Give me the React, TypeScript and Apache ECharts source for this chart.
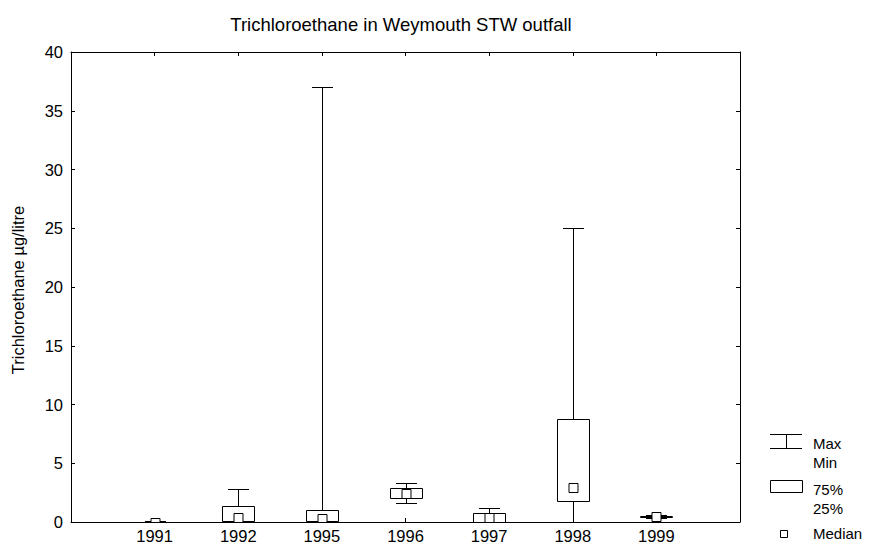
import React, { useEffect, useRef } from "react";
import * as echarts from "echarts";

const categories = ["1991", "1992", "1995", "1996", "1997", "1998", "1999"];
const minValues = [0, 0, 0, 1.58, 0, 0, 0.38];
const q1Values = [0, 0.08, 0.08, 2.03, 0.03, 1.8, 0.43];
const medianValues = [0, 0.42, 0.3, 2.44, 0.42, 2.9, 0.48];
const q3Values = [0.02, 1.36, 1.05, 2.86, 0.75, 8.75, 0.52];
const maxValues = [0.08, 2.8, 37, 3.3, 1.22, 25, 0.58];
const yTicks = { min: 0, max: 40, interval: 5 };

const FONT = "'Liberation Sans', Arial, sans-serif";

export default function App() {
  const ref = useRef<HTMLDivElement>(null);
  useEffect(() => {
    document.body.style.margin = "0";
    const chart = echarts.init(ref.current!, null, { renderer: "svg" });
    const data = categories.map((_, i) => [
      i + 1,
      minValues[i],
      q1Values[i],
      medianValues[i],
      q3Values[i],
      maxValues[i],
    ]);
    const ink = "#000";
    const axisCommon = {
      type: "value" as const,
      min: 0,
      max: categories.length + 1,
      interval: 1,
      axisLine: { show: true, onZero: false, lineStyle: { color: ink, width: 1 } },
      axisTick: { show: true, inside: true, length: 4, lineStyle: { color: ink } },
      splitLine: { show: false },
    };
    const yCommon = {
      type: "value" as const,
      min: yTicks.min,
      max: yTicks.max,
      interval: yTicks.interval,
      axisLine: { show: true, onZero: false, lineStyle: { color: ink, width: 1 } },
      axisTick: { show: true, inside: true, length: 4, lineStyle: { color: ink } },
      splitLine: { show: false },
    };
    const r = (v: number) => Math.round(v) + 0.5;
    chart.setOption({
      animation: false,
      title: {
        text: "Trichloroethane in Weymouth STW outfall",
        left: 396,
        top: 10,
        textAlign: "center",
        textStyle: { fontFamily: FONT, fontSize: 18.5, fontWeight: "normal", color: ink },
      },
      grid: { left: 71, right: 135, top: 52, bottom: 26 },
      xAxis: [
        {
          ...axisCommon,
          position: "bottom",
          axisLabel: {
            color: ink,
            fontFamily: FONT,
            fontSize: 16.5,
            margin: 5,
            formatter: (v: number) => categories[v - 1] ?? "",
          },
        },
        { ...axisCommon, position: "top", axisLabel: { show: false } },
      ],
      yAxis: [
        {
          ...yCommon,
          position: "left",
          axisLabel: { color: ink, fontFamily: FONT, fontSize: 16.5, margin: 8 },
        },
        { ...yCommon, position: "right", axisLabel: { show: false } },
      ],
      graphic: [
        {
          type: "text",
          x: 18,
          y: 290,
          rotation: Math.PI / 2,
          style: {
            text: "Trichloroethane µg/litre",
            font: `16.5px ${FONT}`,
            fill: ink,
            textAlign: "center",
            textVerticalAlign: "middle",
          },
        },
        { type: "line", shape: { x1: 770, y1: 434.5, x2: 802, y2: 434.5 }, style: { stroke: ink, lineWidth: 1 } },
        { type: "line", shape: { x1: 786.5, y1: 434.5, x2: 786.5, y2: 448.5 }, style: { stroke: ink, lineWidth: 1 } },
        { type: "line", shape: { x1: 770, y1: 448.5, x2: 802, y2: 448.5 }, style: { stroke: ink, lineWidth: 1 } },
        { type: "text", x: 813, y: 443, style: { text: "Max", font: `15px ${FONT}`, fill: ink, textVerticalAlign: "middle" } },
        { type: "text", x: 813, y: 462, style: { text: "Min", font: `15px ${FONT}`, fill: ink, textVerticalAlign: "middle" } },
        { type: "rect", shape: { x: 770.5, y: 480.5, width: 32, height: 12 }, style: { fill: "#fff", stroke: ink, lineWidth: 1 } },
        { type: "text", x: 813, y: 489, style: { text: "75%", font: `15px ${FONT}`, fill: ink, textVerticalAlign: "middle" } },
        { type: "text", x: 813, y: 508, style: { text: "25%", font: `15px ${FONT}`, fill: ink, textVerticalAlign: "middle" } },
        { type: "rect", shape: { x: 780.5, y: 530.5, width: 7, height: 7 }, style: { fill: "#fff", stroke: ink, lineWidth: 1 } },
        { type: "text", x: 813, y: 533, style: { text: "Median", font: `15px ${FONT}`, fill: ink, textVerticalAlign: "middle" } },
      ],
      series: [
        {
          type: "custom",
          xAxisIndex: 0,
          yAxisIndex: 0,
          clip: true,
          data,
          encode: { x: 0, y: [1, 2, 3, 4, 5] },
          renderItem: (params: any, api: any) => {
            const x = api.value(0);
            const pMin = api.coord([x, api.value(1)]);
            const pQ1 = api.coord([x, api.value(2)]);
            const pMed = api.coord([x, api.value(3)]);
            const pQ3 = api.coord([x, api.value(4)]);
            const pMax = api.coord([x, api.value(5)]);
            const cx = r(pMin[0]);
            const boxW = 32;
            const capW = 21;
            const sq = 9;
            const style = { stroke: ink, lineWidth: 1, fill: "none" };
            const boxTop = r(pQ3[1]);
            const boxBot = r(pQ1[1]);
            return {
              type: "group",
              children: [
                { type: "line", shape: { x1: cx, y1: r(pMax[1]), x2: cx, y2: r(pMin[1]) }, style },
                { type: "line", shape: { x1: cx - capW / 2, y1: r(pMax[1]), x2: cx + capW / 2, y2: r(pMax[1]) }, style },
                { type: "line", shape: { x1: cx - capW / 2, y1: r(pMin[1]), x2: cx + capW / 2, y2: r(pMin[1]) }, style },
                {
                  type: "rect",
                  shape: { x: cx - boxW / 2, y: boxTop, width: boxW, height: Math.max(boxBot - boxTop, 1) },
                  style: { stroke: ink, lineWidth: 1, fill: "#fff" },
                },
                {
                  type: "rect",
                  shape: { x: cx - sq / 2, y: Math.round(pMed[1] - sq / 2) + 0.5, width: sq, height: sq },
                  style: { stroke: ink, lineWidth: 1, fill: "#fff" },
                },
              ],
            };
          },
        },
      ],
    });
    return () => chart.dispose();
  }, []);
  return (
    <div
      ref={ref}
      style={{ position: "absolute", left: 0, top: 0, width: 875, height: 548, background: "#fff" }}
    />
  );
}
